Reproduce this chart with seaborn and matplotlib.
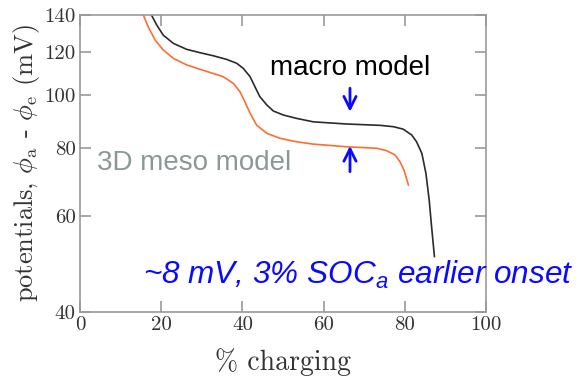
import matplotlib
matplotlib.use("Agg")
import matplotlib.pyplot as plt
import matplotlib.ticker as mticker
import seaborn as sns
import pandas as pd

# ---- data ----
macro_x = [17.6, 18.9, 20.5, 23.0, 26.3, 29.6, 32.8, 36.1, 38.6, 40.2, 41.9, 43.1,
           44.3, 46.0, 47.6, 50.1, 53.4, 57.5, 65.7, 73.9, 77.2, 79.6, 81.7, 82.9,
           84.2, 85.2, 86.0, 86.6, 87.3]
macro_y = [140, 134.2, 128.6, 124.2, 121.1, 119.4, 117.9, 116.1, 114.2, 111.8, 107.9,
           103.4, 99.2, 95.8, 93.4, 91.8, 90.5, 89.2, 88.4, 87.9, 87.4, 86.5, 84.4,
           82.0, 78.1, 71.8, 64.2, 57.3, 50.5]
meso_x = [15.6, 16.8, 18.5, 20.5, 23.0, 26.3, 29.6, 32.8, 35.3, 37.8, 39.4, 40.6,
          41.9, 43.5, 46.0, 49.3, 53.4, 57.5, 65.7, 73.1, 75.5, 77.6, 78.8, 79.8, 80.9]
meso_y = [140, 133.2, 126.0, 120.8, 116.6, 113.4, 111.3, 109.4, 107.9, 104.9, 101.3,
          97.1, 92.5, 88.0, 85.0, 83.2, 82.0, 81.2, 80.3, 79.8, 79.0, 77.6, 75.4,
          72.8, 68.3]
xticks = [0, 20, 40, 60, 80, 100]
yticks = [40, 60, 80, 100, 120, 140]
label_macro = "macro model"
label_meso = "3D meso model"
note = "~8 mV, 3% SOC$_\\mathregular{a}$ earlier onset"
gap_x = 66.5
arrow_down = (102.8, 93.1)
arrow_up = (72.3, 80.6)

sns.set_style("ticks")
plt.rcParams["font.family"] = ["cmr10", "DejaVu Serif"]
plt.rcParams["axes.formatter.use_mathtext"] = True

fig = plt.figure(figsize=(5.76, 3.76), dpi=100)
ax = fig.add_axes([80 / 576, 1 - 312 / 376, 406 / 576, 297 / 376])

df_macro = pd.DataFrame({"x": macro_x, "y": macro_y})
df_meso = pd.DataFrame({"x": meso_x, "y": meso_y})
sns.lineplot(data=df_meso, x="x", y="y", ax=ax, color="#ff6d2e", lw=1.2, sort=False,
             solid_joinstyle="round")
sns.lineplot(data=df_macro, x="x", y="y", ax=ax, color="#2b2b2b", lw=1.2, sort=False,
             solid_joinstyle="round")

ax.set_yscale("log")
ax.set_xlim(0, 100)
ax.set_ylim(40, 140)
ax.set_xticks(xticks)
ax.yaxis.set_major_locator(mticker.FixedLocator(yticks))
ax.yaxis.set_minor_locator(mticker.NullLocator())
ax.yaxis.set_major_formatter(mticker.FixedFormatter([str(v) for v in yticks]))
ax.set_xticklabels([str(v) for v in xticks])

for s in ax.spines.values():
    s.set_visible(True)
    s.set_color("#999999")
    s.set_linewidth(1.2)
ax.tick_params(direction="in", length=8, width=1.2, color="#999999",
               top=True, right=True, labelsize=15, labelcolor="#333333", pad=3)

ax.set_xlabel("% charging", fontsize=20, color="#333333", labelpad=10)
ax.set_ylabel("potentials, $\\phi_\\mathrm{a}$ - $\\phi_\\mathrm{e}$ (mV)",
              fontsize=19, color="#333333", labelpad=2, math_fontfamily="cm")

ax.text(46.8, 108.7, label_macro, fontsize=20, color="black",
        family="Liberation Sans", ha="left", va="baseline")
ax.text(4.2, 72.8, label_meso, fontsize=20, color="#8c9898",
        family="Liberation Sans", ha="left", va="baseline")
ax.text(15.5, 45.0, note, fontsize=22.7, color="#0a0aff", style="italic",
        family="Liberation Sans", ha="left", va="baseline", clip_on=False)

arr = dict(arrowstyle="->", color="#0a0aff", lw=2, mutation_scale=22,
           shrinkA=0, shrinkB=0)
ax.annotate("", xy=(gap_x, arrow_down[1]), xytext=(gap_x, arrow_down[0]), arrowprops=arr)
ax.annotate("", xy=(gap_x, arrow_up[1]), xytext=(gap_x, arrow_up[0]), arrowprops=arr)

fig.savefig("out.png", dpi=100)
